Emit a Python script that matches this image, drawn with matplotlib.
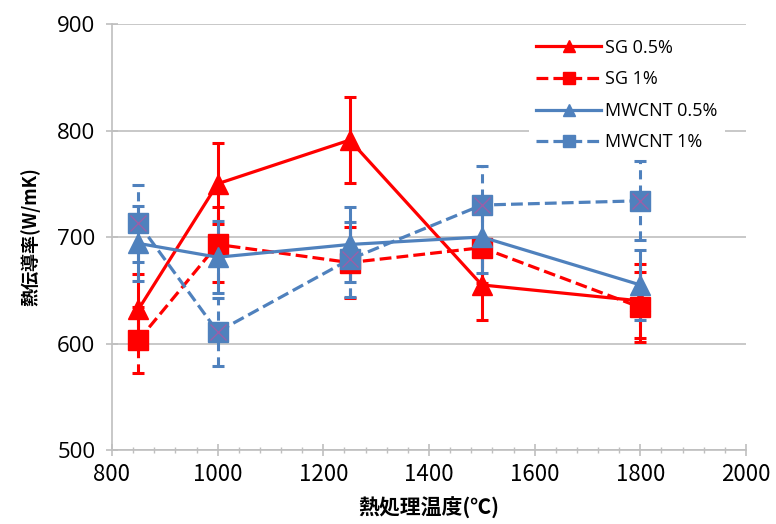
import matplotlib
matplotlib.use("Agg")
import matplotlib.pyplot as plt
from matplotlib.ticker import MultipleLocator
from matplotlib.lines import Line2D

plt.rcParams['font.family'] = ['Noto Sans CJK JP', 'DejaVu Sans']

temps = [850, 1000, 1250, 1500, 1800]
sg05 = [632, 750, 791, 655, 640]
sg05_err = [33, 38, 40, 33, 35]
sg1 = [603, 693, 676, 690, 634]
sg1_err = [31, 35, 33, 33, 33]
mw05 = [694, 681, 693, 700, 655]
mw05_err = [35, 34, 35, 34, 33]
mw1 = [713, 611, 679, 730, 734]
mw1_err = [36, 32, 35, 37, 37]

labels = ['SG 0.5%', 'SG 1%', 'MWCNT 0.5%', 'MWCNT 1%']
xlabel = '熱処理温度(℃)'
ylabel = '熱伝導率(W/mK)'

RED = '#FF0000'
BLUE = '#4F81BD'

fig = plt.figure(figsize=(7.76, 5.24), dpi=100)
ax = fig.add_axes([0.1443, 0.1412, 0.817, 0.813])

series = [
    (sg05, sg05_err, RED, '-', '^', labels[0]),
    (sg1, sg1_err, RED, '--', 's', labels[1]),
    (mw05, mw05_err, BLUE, '-', '^', labels[2]),
    (mw1, mw1_err, BLUE, '--', 's', labels[3]),
]
handles = []
for vals, err, col, ls, mk, lab in series:
    eb = ax.errorbar(temps, vals, yerr=err, color=col, ecolor=col, elinewidth=2.2,
                     capsize=4, capthick=2.2, linestyle=ls, linewidth=2.3,
                     marker=mk, markersize=15, markeredgecolor=col, markerfacecolor=col,
                     zorder=3)
    if ls == '--':
        for lc in eb[2]:
            lc.set_linestyle((0, (3, 2)))
    if col == BLUE and mk == 's':
        ax.plot(temps, vals, linestyle='none', marker='x', markersize=11,
                markeredgecolor='#9A5FA8', markeredgewidth=1.0, zorder=4)
    handles.append(Line2D([], [], color=col, linestyle=ls, linewidth=2.3, marker=mk,
                          markersize=9, markerfacecolor=col, markeredgecolor=col))

ax.set_xlim(800, 2000)
ax.set_ylim(500, 900)
ax.xaxis.set_major_locator(MultipleLocator(200))
ax.xaxis.set_minor_locator(MultipleLocator(40))
ax.yaxis.set_major_locator(MultipleLocator(100))
ax.grid(axis='y', color='#BFBFBF', linewidth=1.2, zorder=0)
ax.set_axisbelow(True)
for s in ['top', 'right']:
    ax.spines[s].set_visible(False)
for s in ['left', 'bottom']:
    ax.spines[s].set_color('#BFBFBF')
    ax.spines[s].set_linewidth(1.2)
ax.tick_params(axis='both', which='major', direction='inout', length=8, color='#BFBFBF',
               labelsize=16, width=1.2)
ax.tick_params(axis='x', which='minor', direction='inout', length=5, color='#BFBFBF', width=1.0)
ax.tick_params(axis='x', pad=5)
ax.tick_params(axis='y', pad=8)
for t in ax.get_yticklabels():
    t.set_family(['Open Sans', 'DejaVu Sans'])

ax.set_xlabel(xlabel, fontsize=15, fontweight='bold', labelpad=8)
ax.set_ylabel(ylabel, fontsize=13, fontweight='bold', labelpad=12)

leg = ax.legend(handles=handles, labels=labels, loc='upper right', bbox_to_anchor=(0.975, 0.995),
                frameon=True, facecolor='white', edgecolor='none', framealpha=1,
                handlelength=3.6, labelspacing=0.75, borderaxespad=0.3,
                handletextpad=0.2, prop={'family': ['Open Sans', 'DejaVu Sans'], 'size': 13})

fig.savefig('out.png', dpi=100)
